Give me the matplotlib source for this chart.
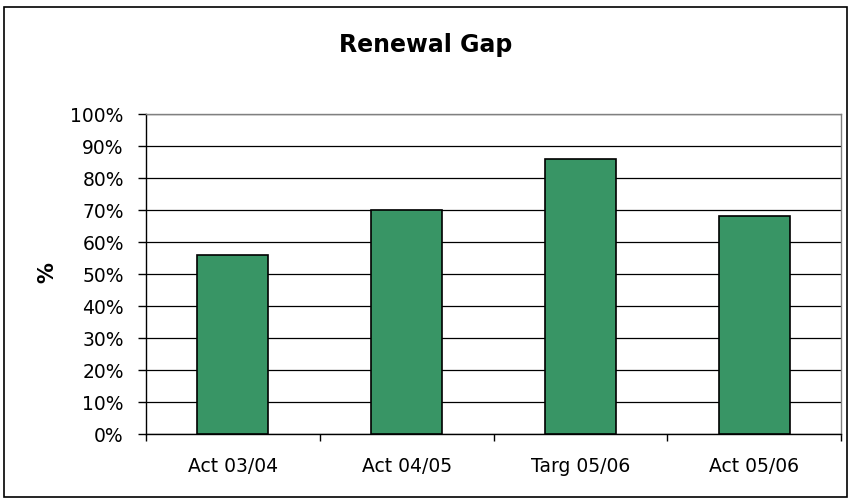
import matplotlib.pyplot as plt
from matplotlib.patches import Rectangle
from matplotlib.ticker import FixedLocator

categories = ["Act 03/04", "Act 04/05", "Targ 05/06", "Act 05/06"]
values = [56, 70, 86, 68]
yticks = list(range(0, 101, 10))

fig = plt.figure(figsize=(8.51, 5.02), dpi=100)
ax = fig.add_axes([146 / 851, 1 - 435 / 502, 695 / 851, 320 / 502])

x = range(len(categories))
ax.bar(x, values, width=0.41, color="#389565", edgecolor="black", linewidth=1.2, zorder=3)

ax.set_xlim(-0.5, len(categories) - 0.5)
ax.set_ylim(0, 100)
ax.set_yticks(yticks)
ax.set_yticklabels([f"{t}%" for t in yticks], fontsize=13.5)
ax.set_xticks(list(x))
ax.set_xticklabels(categories, fontsize=13.5)
ax.tick_params(axis="x", length=0, pad=16)
ax.xaxis.set_minor_locator(FixedLocator([i - 0.5 for i in range(len(categories) + 1)]))
ax.tick_params(axis="x", which="minor", length=5, direction="out", width=1)
ax.tick_params(axis="y", length=6, direction="out", width=1, pad=10)
ax.yaxis.grid(True, color="black", linewidth=0.9, zorder=0)

for side in ["top", "right"]:
    ax.spines[side].set_color("#808080")
    ax.spines[side].set_linewidth(1)
ax.spines["left"].set_linewidth(1)
ax.spines["bottom"].set_linewidth(1)

fig.text(47 / 851, 1 - 273 / 502, "%", rotation=90, ha="center", va="center",
         fontsize=15, fontweight="bold")
fig.text(0.5, 1 - 45 / 502, "Renewal Gap", ha="center", va="center", fontsize=17, fontweight="bold")

fig.patches.append(Rectangle((4 / 851, 4 / 502), 843 / 851, 490 / 502, transform=fig.transFigure,
                             fill=False, edgecolor="black", linewidth=1.2))

fig.savefig("out.png", dpi=100)
